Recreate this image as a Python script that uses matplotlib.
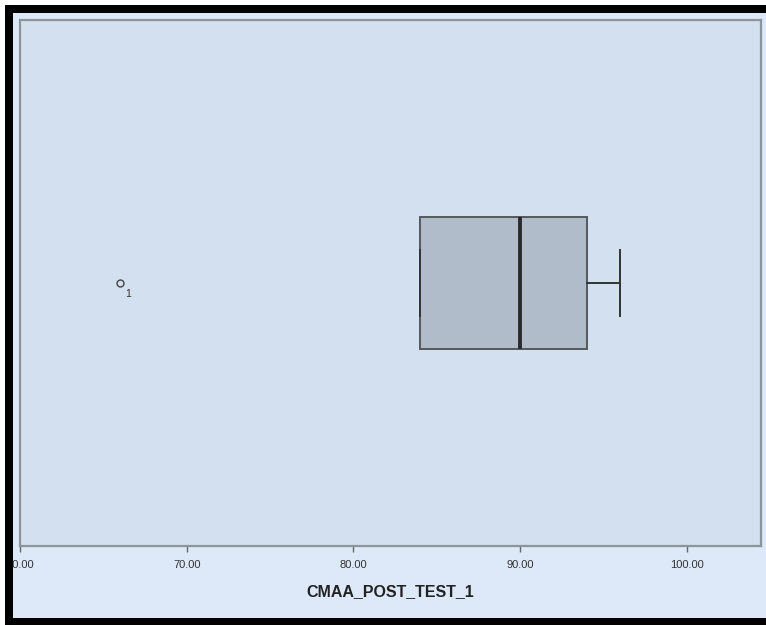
import matplotlib.pyplot as plt
from matplotlib.patches import Rectangle

# summary of CMAA_POST_TEST_1
variable = 'CMAA_POST_TEST_1'
q1, median, q3 = 84.0, 90.0, 94.0
whisker_low, whisker_high = 84.0, 96.0
outliers = [66.0]
outlier_ids = ['1']
tick_values = [60, 70, 80, 90, 100]
tick_labels = ['60.00', '70.00', '80.00', '90.00', '100.00']

W, H = 766, 625
fig = plt.figure(figsize=(W / 100, H / 100), dpi=100, facecolor='white')
plt.rcParams['font.family'] = ['Liberation Sans', 'DejaVu Sans']

def px_rect(x0, y0, x1, y1, color, z):
    # rectangle in pixel coords measured from the top left corner
    r = Rectangle((x0 / W, 1 - y1 / H), (x1 - x0) / W, (y1 - y0) / H,
                  transform=fig.transFigure, facecolor=color,
                  edgecolor='none', zorder=z)
    fig.patches.append(r)

# light blue chart background and black outer frame
px_rect(13, 13, W, 618, '#dde9f8', -5)
px_rect(5, 5, W, 13, 'black', 10)
px_rect(5, 5, 13, H, 'black', 10)
px_rect(5, 618, W, H, 'black', 10)

ax = fig.add_axes([20 / W, 1 - 546 / H, (761 - 20) / W, (546 - 20) / H])
ax.set_facecolor('#d3e0ef')

stats = [dict(med=median, q1=q1, q3=q3, whislo=whisker_low,
              whishi=whisker_high, fliers=outliers)]
ax.bxp(stats, positions=[1], widths=0.25, capwidths=0.124,
       orientation='horizontal', patch_artist=True,
       boxprops=dict(facecolor='#b1bccb', edgecolor='#55595e', linewidth=1.4),
       medianprops=dict(color='#2a2a2a', linewidth=2.8),
       whiskerprops=dict(color='#333333', linewidth=1.4),
       capprops=dict(color='#333333', linewidth=1.4),
       flierprops=dict(marker='o', markersize=5, markerfacecolor='none',
                       markeredgecolor='#444444', markeredgewidth=1.0))

for x, label in zip(outliers, outlier_ids):
    ax.annotate(label, (x, 1), xytext=(4, -8), textcoords='offset points',
                fontsize=7.5, color='#333333', ha='left', va='center')

ax.set_xlim(60, 104.45)
ax.set_ylim(0.5, 1.5)
ax.set_xticks(tick_values)
ax.set_xticklabels(tick_labels, fontsize=8, color='#333333')
ax.set_yticks([])
ax.tick_params(axis='x', direction='out', length=4, width=1,
               color='#666666', pad=6)
for s in ax.spines.values():
    s.set_color('#8c949c')
    s.set_linewidth(1.6)

ax.set_xlabel(variable, fontsize=11.5, fontweight='bold', color='#222222',
              labelpad=10)

fig.savefig('out.png', dpi=100, facecolor=fig.get_facecolor())
